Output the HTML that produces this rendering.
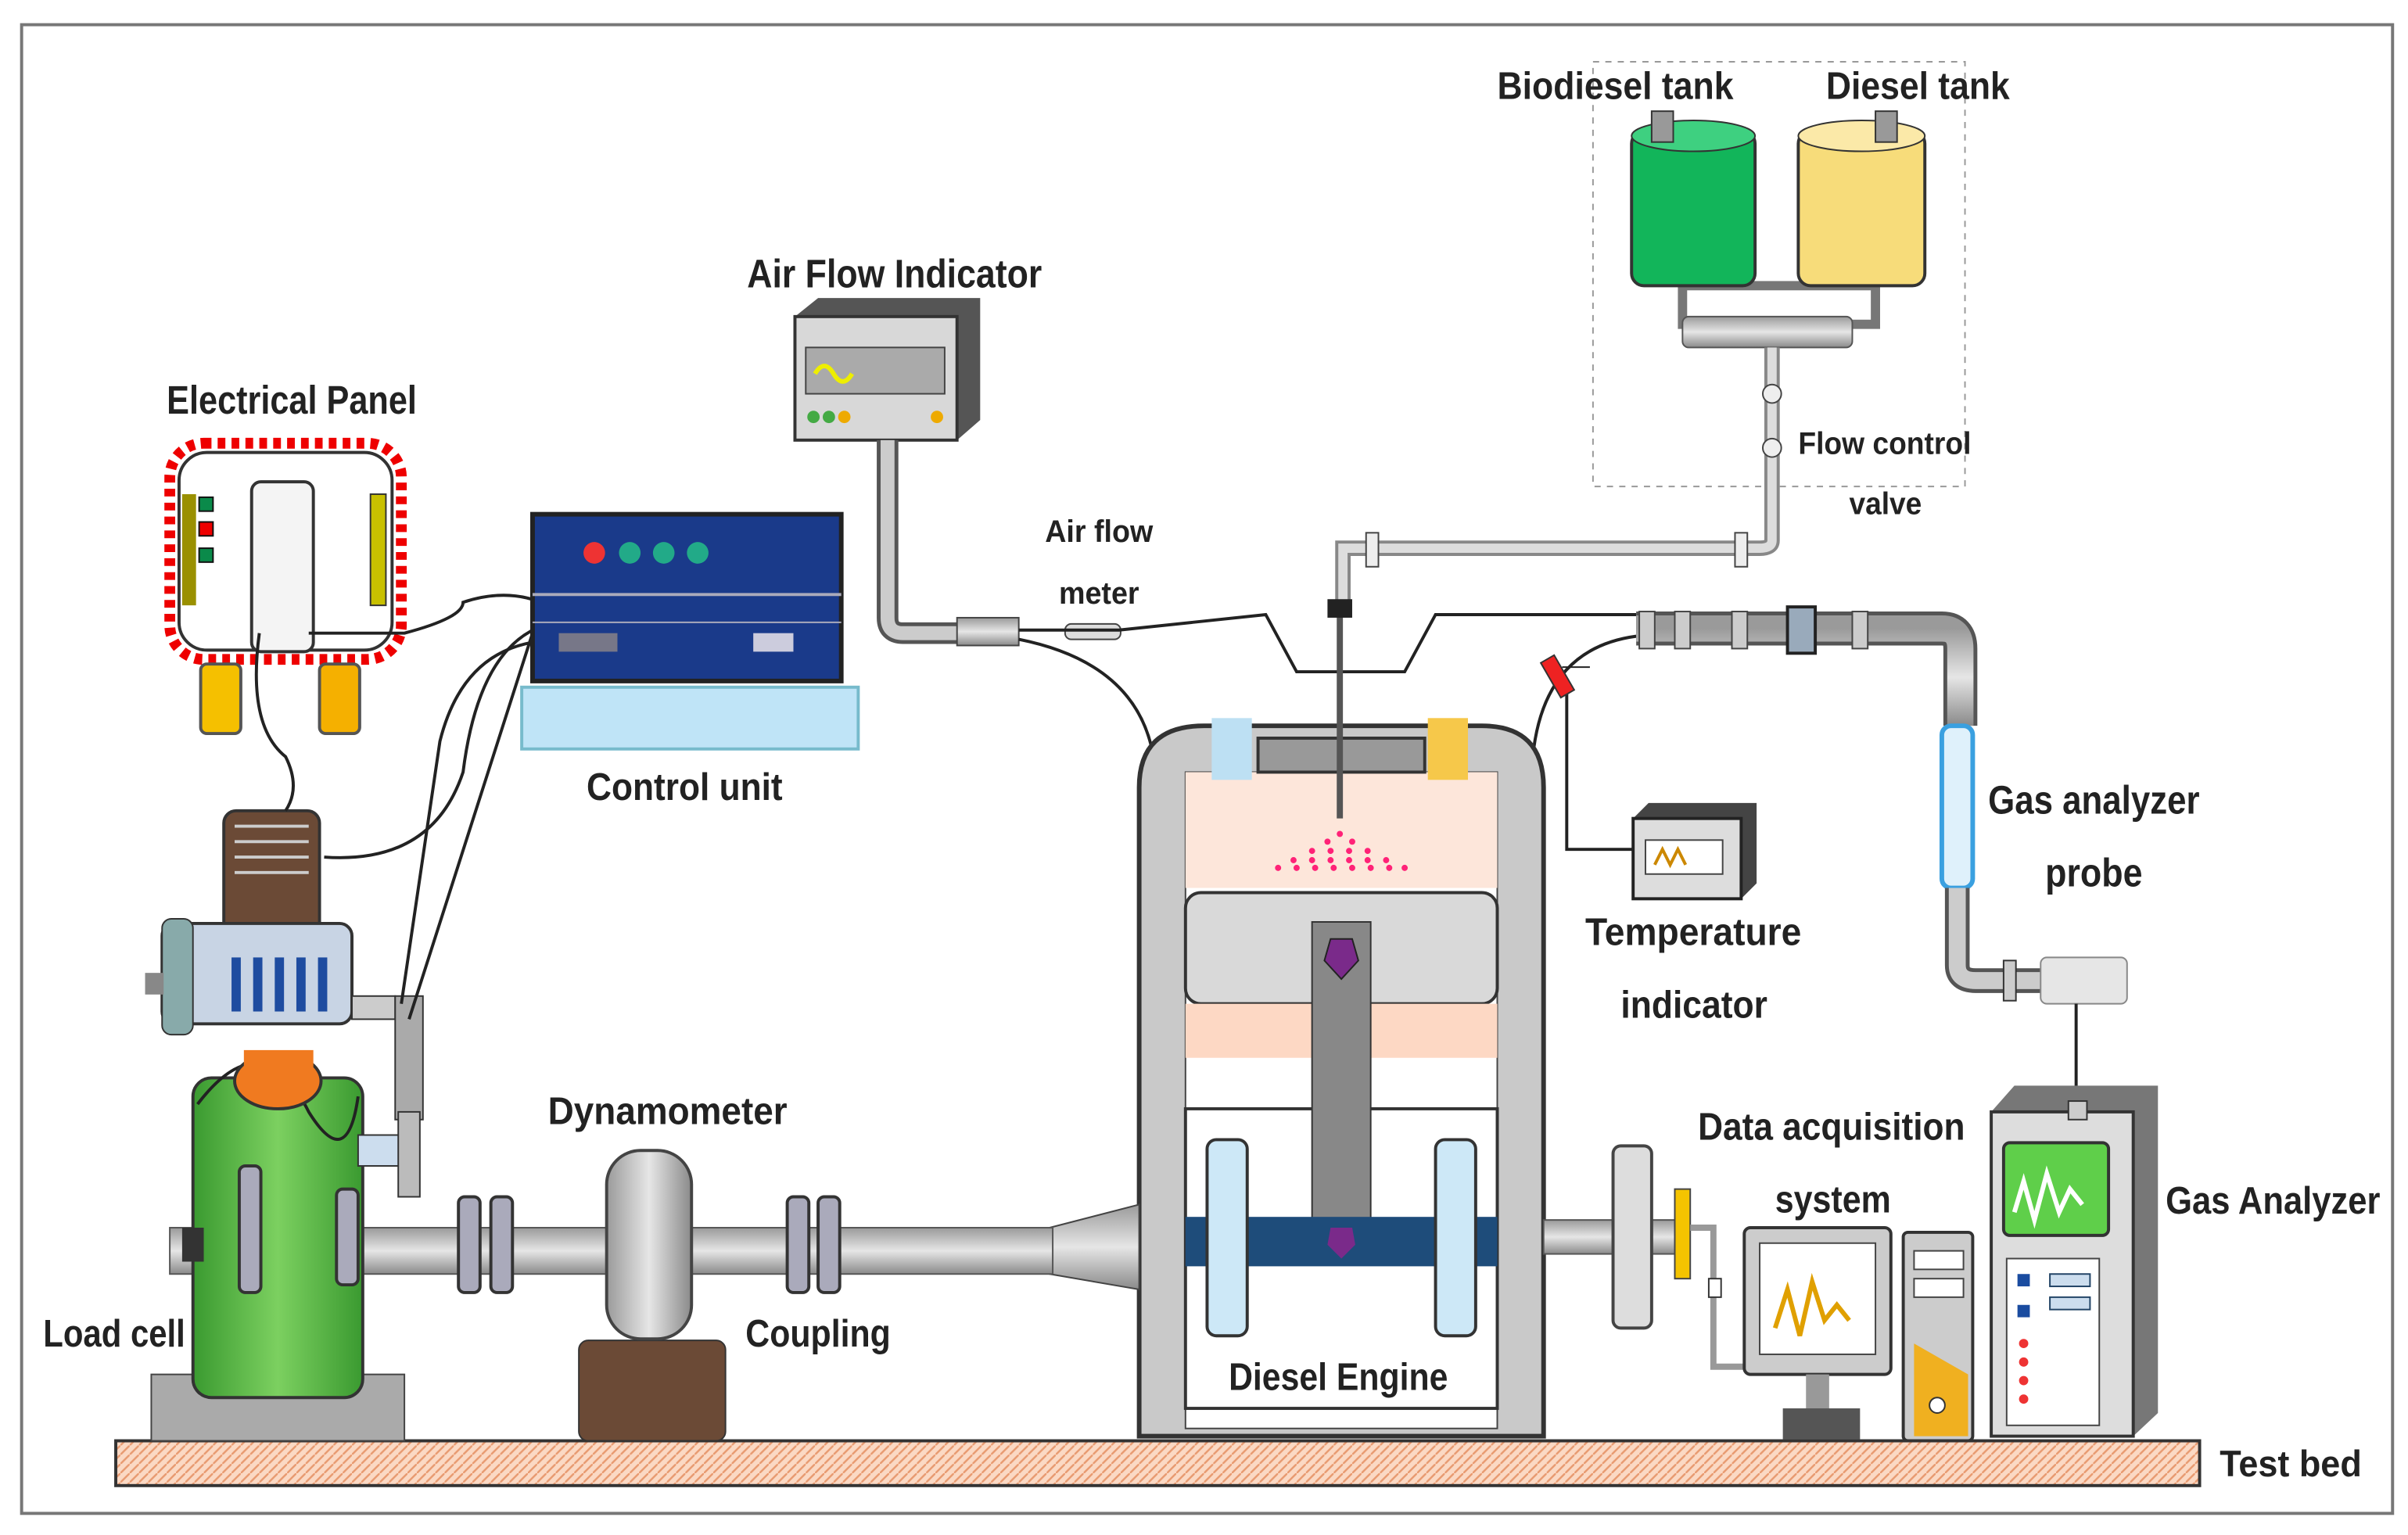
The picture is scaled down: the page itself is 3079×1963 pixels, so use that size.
<!DOCTYPE html>
<html><head><style>
html,body{margin:0;padding:0;background:#fff}
svg{display:block}
text{font-family:"Liberation Sans",sans-serif;font-weight:bold;fill:#222}
</style></head><body>
<svg width="3079" height="1963" viewBox="0 0 1560 994" preserveAspectRatio="none" xmlns="http://www.w3.org/2000/svg">
<defs>
<pattern id="hatch" width="6" height="6" patternUnits="userSpaceOnUse"><rect width="6" height="6" fill="#fbd9c4"/><path d="M0 6L6 0" stroke="#e89a70" stroke-width="1.2"/></pattern>
<linearGradient id="gpipe" x1="0" y1="0" x2="0" y2="1"><stop offset="0" stop-color="#9a9a9a"/><stop offset=".5" stop-color="#e6e6e6"/><stop offset="1" stop-color="#8a8a8a"/></linearGradient>
<linearGradient id="vpipe" x1="0" y1="0" x2="1" y2="0"><stop offset="0" stop-color="#9a9a9a"/><stop offset=".5" stop-color="#e6e6e6"/><stop offset="1" stop-color="#8a8a8a"/></linearGradient>
<linearGradient id="green" x1="0" y1="0" x2="1" y2="0"><stop offset="0" stop-color="#3a9a30"/><stop offset=".5" stop-color="#7cd060"/><stop offset="1" stop-color="#3a9a30"/></linearGradient>
</defs>
<rect x="14" y="16" width="1536" height="964" fill="#fff" stroke="#777" stroke-width="2"/>
<rect x="1032" y="40" width="241" height="275" fill="none" stroke="#999" stroke-dasharray="4 4"/>

<!-- test bed -->
<rect x="75" y="933" width="1350" height="29" fill="url(#hatch)" stroke="#333" stroke-width="2"/>
<text x="1438" y="956" font-size="24" textLength="92" lengthAdjust="spacingAndGlyphs">Test bed</text>

<!-- tanks -->
<rect x="1090" y="185" width="125" height="25" fill="none" stroke="#777" stroke-width="6"/>
<rect x="1090" y="205" width="110" height="20" rx="4" fill="url(#gpipe)" stroke="#555"/>
<rect x="1057" y="85" width="80" height="100" rx="8" fill="#12b55a" stroke="#333" stroke-width="2"/>
<ellipse cx="1097" cy="88" rx="40" ry="10" fill="#3ed080" stroke="#333"/>
<rect x="1070" y="72" width="14" height="20" fill="#999" stroke="#333"/>
<rect x="1165" y="85" width="82" height="100" rx="8" fill="#f7dc7a" stroke="#333" stroke-width="2"/>
<ellipse cx="1206" cy="88" rx="41" ry="10" fill="#fbe9a8" stroke="#333"/>
<rect x="1215" y="72" width="14" height="20" fill="#999" stroke="#333"/>
<text x="970" y="64" font-size="25" textLength="153" lengthAdjust="spacingAndGlyphs">Biodiesel tank</text>
<text x="1183" y="64" font-size="25" textLength="119" lengthAdjust="spacingAndGlyphs">Diesel tank</text>
<text x="1165" y="294" font-size="20" textLength="112" lengthAdjust="spacingAndGlyphs">Flow control</text>
<text x="1198" y="333" font-size="20" textLength="47" lengthAdjust="spacingAndGlyphs">valve</text>
<!-- fuel line -->
<path d="M1148 225 V350 Q1148 355 1140 355 H870 V390" fill="none" stroke="#888" stroke-width="10"/>
<path d="M1148 225 V350 Q1148 355 1140 355 H870 V390" fill="none" stroke="#ddd" stroke-width="6"/>
<circle cx="1148" cy="255" r="6" fill="#eee" stroke="#444"/>
<circle cx="1148" cy="290" r="6" fill="#eee" stroke="#444"/>
<rect x="885" y="345" width="8" height="22" fill="#eee" stroke="#444"/>
<rect x="1124" y="345" width="8" height="22" fill="#eee" stroke="#444"/>

<!-- air flow indicator -->
<path d="M515 205 L530 193 L635 193 L635 272 L620 285 L515 285Z" fill="#555"/>
<rect x="515" y="205" width="105" height="80" fill="#d8d8d8" stroke="#333" stroke-width="2"/>
<rect x="522" y="225" width="90" height="30" fill="#aaa" stroke="#444"/>
<path d="M528 242 q6 -10 12 0 t12 0" stroke="#ee0" stroke-width="3" fill="none"/>
<circle cx="527" cy="270" r="4" fill="#4a4"/><circle cx="537" cy="270" r="4" fill="#4a4"/><circle cx="547" cy="270" r="4" fill="#ea0"/><circle cx="607" cy="270" r="4" fill="#ea0"/>
<text x="484" y="186" font-size="26" textLength="191" lengthAdjust="spacingAndGlyphs">Air Flow Indicator</text>
<path d="M575 285 V400 Q575 410 585 410 H625" fill="none" stroke="#555" stroke-width="14"/>
<path d="M575 285 V400 Q575 410 585 410 H625" fill="none" stroke="#ccc" stroke-width="9"/>
<rect x="620" y="400" width="40" height="18" fill="url(#gpipe)" stroke="#444"/>
<rect x="690" y="404" width="36" height="10" rx="4" fill="#ddd" stroke="#444"/>
<text x="677" y="351" font-size="20" textLength="70" lengthAdjust="spacingAndGlyphs">Air flow</text>
<text x="686" y="391" font-size="20" textLength="52" lengthAdjust="spacingAndGlyphs">meter</text>
<path d="M660 408 L725 408 L820 398 L840 435 L910 435 L930 398 L1060 398" fill="none" stroke="#222" stroke-width="2"/>
<path d="M660 414 Q740 430 748 495" fill="none" stroke="#222" stroke-width="2"/>
<path d="M1060 412 Q1000 420 993 490" fill="none" stroke="#222" stroke-width="2"/>
<!-- exhaust -->
<path d="M1060 407 H1258 Q1270 407 1270 420 V470" fill="none" stroke="#555" stroke-width="22"/>
<path d="M1060 407 H1258 Q1270 407 1270 420 V470" fill="none" stroke="url(#gpipe)" stroke-width="17"/>
<rect x="1062" y="396" width="10" height="24" fill="#ccc" stroke="#444"/>
<rect x="1085" y="396" width="10" height="24" fill="#ccc" stroke="#444"/>
<rect x="1122" y="396" width="10" height="24" fill="#ccc" stroke="#444"/>
<rect x="1158" y="393" width="18" height="30" fill="#9ab" stroke="#222" stroke-width="2"/>
<rect x="1200" y="396" width="10" height="24" fill="#ccc" stroke="#444"/>
<rect x="1258" y="470" width="20" height="105" rx="6" fill="#dff1fb" stroke="#3aa0e0" stroke-width="3"/>
<path d="M1268 575 V625 Q1268 635 1280 635 H1322" fill="none" stroke="#555" stroke-width="16"/>
<path d="M1268 575 V625 Q1268 635 1280 635 H1322" fill="none" stroke="#ccc" stroke-width="11"/>
<rect x="1298" y="622" width="8" height="26" fill="#ccc" stroke="#333"/>
<rect x="1322" y="620" width="56" height="30" rx="4" fill="#e6e6e6" stroke="#888"/>
<line x1="1345" y1="650" x2="1345" y2="715" stroke="#222" stroke-width="2"/>
<text x="1288" y="527" font-size="26" textLength="137" lengthAdjust="spacingAndGlyphs">Gas analyzer</text>
<text x="1325" y="574" font-size="26" textLength="63" lengthAdjust="spacingAndGlyphs">probe</text>

<!-- temperature indicator -->
<line x1="1012" y1="432" x2="1030" y2="432" stroke="#222"/>
<path d="M1015 440 V550 H1058" fill="none" stroke="#222" stroke-width="2"/>
<rect x="1004" y="425" width="10" height="26" fill="#e22" stroke="#333" transform="rotate(-30 1009 438)"/>
<path d="M1058 530 L1068 520 L1138 520 L1138 572 L1128 582 L1058 582Z" fill="#444"/>
<rect x="1058" y="530" width="70" height="52" fill="#ddd" stroke="#222" stroke-width="2"/>
<rect x="1066" y="544" width="50" height="22" fill="#fff" stroke="#444"/>
<path d="M1072 560 l5 -10 l5 10 l5 -10 l5 10" stroke="#c80" stroke-width="2" fill="none"/>
<text x="1027" y="612" font-size="25" textLength="140" lengthAdjust="spacingAndGlyphs">Temperature</text>
<text x="1050" y="659" font-size="25" textLength="95" lengthAdjust="spacingAndGlyphs">indicator</text>

<!-- engine -->
<path d="M738 930 V510 Q738 470 780 470 H960 Q1000 470 1000 510 V930Z" fill="#c9c9c9" stroke="#333" stroke-width="3"/>
<rect x="768" y="500" width="202" height="425" fill="#fff" stroke="#444"/>
<rect x="768" y="500" width="202" height="75" fill="#fde6da"/>
<rect x="815" y="478" width="108" height="22" fill="#999" stroke="#333" stroke-width="2"/>
<rect x="785" y="465" width="26" height="40" fill="#bde0f3"/>
<rect x="925" y="465" width="26" height="40" fill="#f6c84a"/>
<g fill="#f27">
<circle cx="868" cy="540" r="2"/><circle cx="860" cy="545" r="2"/><circle cx="876" cy="545" r="2"/><circle cx="850" cy="551" r="2"/><circle cx="862" cy="551" r="2"/><circle cx="874" cy="551" r="2"/><circle cx="886" cy="551" r="2"/><circle cx="838" cy="557" r="2"/><circle cx="850" cy="557" r="2"/><circle cx="862" cy="557" r="2"/><circle cx="874" cy="557" r="2"/><circle cx="886" cy="557" r="2"/><circle cx="898" cy="557" r="2"/><circle cx="828" cy="562" r="2"/><circle cx="840" cy="562" r="2"/><circle cx="852" cy="562" r="2"/><circle cx="864" cy="562" r="2"/><circle cx="876" cy="562" r="2"/><circle cx="888" cy="562" r="2"/><circle cx="900" cy="562" r="2"/><circle cx="910" cy="562" r="2"/>
</g>
<line x1="868" y1="390" x2="868" y2="530" stroke="#555" stroke-width="4"/>
<rect x="860" y="388" width="16" height="12" fill="#222"/>
<rect x="768" y="578" width="202" height="72" rx="10" fill="#d9d9d9" stroke="#333" stroke-width="2"/>
<rect x="768" y="650" width="202" height="35" fill="#fdd8c4"/>
<rect x="768" y="718" width="202" height="194" fill="#fff" stroke="#333" stroke-width="2"/>
<rect x="850" y="597" width="38" height="195" fill="#888" stroke="#333"/>
<polygon points="862,608 876,608 880,622 869,634 858,622" fill="#7a2a8a" stroke="#222"/>
<rect x="768" y="788" width="202" height="32" fill="#1e4c7a"/>
<polygon points="862,795 876,795 878,806 869,815 860,806" fill="#7a2a8a"/>
<rect x="782" y="738" width="26" height="127" rx="6" fill="#cde8f7" stroke="#333" stroke-width="2"/>
<rect x="930" y="738" width="26" height="127" rx="6" fill="#cde8f7" stroke="#333" stroke-width="2"/>
<text x="796" y="900" font-size="25" textLength="142" lengthAdjust="spacingAndGlyphs">Diesel Engine</text>
<polygon points="680,795 738,780 738,835 680,825" fill="url(#gpipe)" stroke="#444"/>

<!-- shaft -->
<rect x="110" y="795" width="572" height="30" fill="url(#gpipe)" stroke="#555"/>
<rect x="1000" y="790" width="90" height="22" fill="url(#gpipe)" stroke="#555"/>
<rect x="1045" y="742" width="25" height="118" rx="5" fill="#ddd" stroke="#444" stroke-width="2"/>
<rect x="1085" y="770" width="10" height="58" fill="#f5c400" stroke="#444"/>
<path d="M1095 795 H1110 V885 H1135" fill="none" stroke="#999" stroke-width="4"/>
<rect x="1107" y="828" width="8" height="12" fill="#fff" stroke="#333"/>
<g fill="#aab" stroke="#333" stroke-width="2">
<rect x="297" y="775" width="14" height="62" rx="4"/><rect x="318" y="775" width="14" height="62" rx="4"/>
<rect x="510" y="775" width="14" height="62" rx="4"/><rect x="530" y="775" width="14" height="62" rx="4"/>
</g>
<!-- dynamometer -->
<rect x="375" y="868" width="95" height="65" rx="6" fill="#6b4a36" stroke="#333"/>
<rect x="393" y="745" width="55" height="122" rx="22" fill="url(#vpipe)" stroke="#444" stroke-width="2"/>
<text x="355" y="728" font-size="25" textLength="155" lengthAdjust="spacingAndGlyphs">Dynamometer</text>
<text x="483" y="872" font-size="25" textLength="94" lengthAdjust="spacingAndGlyphs">Coupling</text>

<!-- load cell -->
<rect x="98" y="890" width="164" height="43" fill="#aaa" stroke="#444"/>
<rect x="125" y="698" width="110" height="207" rx="12" fill="url(#green)" stroke="#333" stroke-width="2"/>
<path d="M128 715 Q170 660 200 720 Q225 760 232 710" fill="none" stroke="#222" stroke-width="2"/>
<rect x="155" y="755" width="14" height="82" rx="4" fill="#aab" stroke="#333" stroke-width="2"/>
<rect x="218" y="770" width="14" height="62" rx="4" fill="#aab" stroke="#333" stroke-width="2"/>
<rect x="118" y="795" width="14" height="22" fill="#333"/>
<ellipse cx="180" cy="700" rx="28" ry="18" fill="#f07a20" stroke="#333" stroke-width="2"/>
<rect x="158" y="680" width="45" height="20" fill="#f07a20"/>
<text x="28" y="872" font-size="25" textLength="92" lengthAdjust="spacingAndGlyphs">Load cell</text>
<!-- motor -->
<rect x="145" y="525" width="62" height="85" rx="8" fill="#6b4a36" stroke="#333" stroke-width="2"/>
<g stroke="#ccc" stroke-width="2"><line x1="152" y1="535" x2="200" y2="535"/><line x1="152" y1="545" x2="200" y2="545"/><line x1="152" y1="555" x2="200" y2="555"/><line x1="152" y1="565" x2="200" y2="565"/></g>
<rect x="105" y="598" width="123" height="65" rx="8" fill="#c8d4e4" stroke="#333" stroke-width="2"/>
<rect x="105" y="595" width="20" height="75" rx="6" fill="#8aa" stroke="#333"/>
<g fill="#1e4ca0"><rect x="150" y="620" width="6" height="35"/><rect x="164" y="620" width="6" height="35"/><rect x="178" y="620" width="6" height="35"/><rect x="192" y="620" width="6" height="35"/><rect x="206" y="620" width="6" height="35"/></g>
<rect x="228" y="645" width="28" height="15" fill="#ccc" stroke="#333"/>
<rect x="256" y="645" width="18" height="80" fill="#aaa" stroke="#333"/>
<rect x="232" y="735" width="38" height="20" fill="#cde" stroke="#333"/>
<rect x="258" y="720" width="14" height="55" fill="#bbb" stroke="#333"/>
<rect x="94" y="630" width="12" height="14" fill="#888"/>

<!-- electrical panel -->
<rect x="110" y="287" width="150" height="140" rx="22" fill="#fff" stroke="#e00" stroke-width="7" stroke-dasharray="5 4"/>
<rect x="116" y="293" width="138" height="128" rx="18" fill="none" stroke="#333" stroke-width="2"/>
<rect x="163" y="312" width="40" height="110" rx="6" fill="#f4f4f4" stroke="#333" stroke-width="2"/>
<rect x="118" y="320" width="9" height="72" fill="#9a9000"/>
<rect x="129" y="322" width="9" height="9" fill="#0a8a4a" stroke="#111"/>
<rect x="129" y="338" width="9" height="9" fill="#e00" stroke="#111"/>
<rect x="129" y="355" width="9" height="9" fill="#0a8a4a" stroke="#111"/>
<rect x="240" y="320" width="10" height="72" fill="#c8c000" stroke="#333"/>
<rect x="130" y="430" width="26" height="45" rx="4" fill="#f5c000" stroke="#555" stroke-width="2"/>
<rect x="207" y="430" width="26" height="45" rx="4" fill="#f5b000" stroke="#555" stroke-width="2"/>
<text x="108" y="268" font-size="26" textLength="162" lengthAdjust="spacingAndGlyphs">Electrical Panel</text>
<!-- wires -->
<g fill="none" stroke="#222" stroke-width="2">
<path d="M168 410 Q160 470 185 490 Q195 510 185 525"/>
<path d="M200 410 H262 Q300 400 300 390 Q330 380 355 392"/>
<path d="M210 555 Q280 560 300 500 Q310 420 352 405"/>
<path d="M265 660 L345 410"/>
<path d="M260 650 L285 480 Q300 420 352 415"/>
</g>
<!-- control unit -->
<rect x="338" y="445" width="218" height="40" fill="#bfe4f7" stroke="#7bc" stroke-width="2"/>
<rect x="345" y="333" width="200" height="108" fill="#1a3a8a" stroke="#222" stroke-width="3"/>
<line x1="345" y1="385" x2="545" y2="385" stroke="#aab" stroke-width="2"/>
<line x1="345" y1="403" x2="545" y2="403" stroke="#aab"/>
<circle cx="385" cy="358" r="7" fill="#e33"/><circle cx="408" cy="358" r="7" fill="#2a8"/><circle cx="430" cy="358" r="7" fill="#2a8"/><circle cx="452" cy="358" r="7" fill="#2a8"/>
<rect x="362" y="410" width="38" height="12" fill="#778"/>
<rect x="488" y="410" width="26" height="12" fill="#ccd"/>
<text x="380" y="518" font-size="25" textLength="127" lengthAdjust="spacingAndGlyphs">Control unit</text>

<!-- data acquisition -->
<rect x="1130" y="795" width="95" height="95" rx="4" fill="#ccc" stroke="#333" stroke-width="2"/>
<rect x="1140" y="805" width="75" height="72" fill="#fff" stroke="#444"/>
<path d="M1150 860 l8 -25 l8 30 l8 -35 l8 25 l8 -10 l8 10" fill="none" stroke="#e0a000" stroke-width="3"/>
<rect x="1170" y="890" width="15" height="25" fill="#999"/>
<rect x="1155" y="912" width="50" height="20" fill="#555"/>
<rect x="1233" y="798" width="45" height="135" rx="3" fill="#ccc" stroke="#333" stroke-width="2"/>
<rect x="1240" y="810" width="32" height="12" fill="#fff" stroke="#444"/>
<rect x="1240" y="828" width="32" height="12" fill="#fff" stroke="#444"/>
<path d="M1240 870 L1275 890 L1275 930 L1240 930Z" fill="#f0b020"/>
<circle cx="1255" cy="910" r="5" fill="#fff" stroke="#333"/>
<text x="1100" y="738" font-size="25" textLength="173" lengthAdjust="spacingAndGlyphs">Data acquisition</text>
<text x="1150" y="785" font-size="25" textLength="75" lengthAdjust="spacingAndGlyphs">system</text>

<!-- gas analyzer -->
<path d="M1290 720 L1305 703 L1398 703 L1398 915 L1382 930 L1290 930Z" fill="#777"/>
<rect x="1290" y="720" width="92" height="210" fill="#ddd" stroke="#333" stroke-width="2"/>
<rect x="1298" y="740" width="68" height="60" rx="4" fill="#5fcf4a" stroke="#333" stroke-width="2"/>
<path d="M1305 785 l6 -20 l7 25 l8 -30 l8 25 l7 -15 l8 10" fill="none" stroke="#fff" stroke-width="3"/>
<rect x="1300" y="815" width="60" height="108" fill="#fff" stroke="#444"/>
<rect x="1328" y="825" width="26" height="8" fill="#cde" stroke="#246"/>
<rect x="1328" y="840" width="26" height="8" fill="#cde" stroke="#246"/>
<g fill="#1a4ca0"><rect x="1307" y="825" width="8" height="8"/><rect x="1307" y="845" width="8" height="8"/></g>
<g fill="#e33"><circle cx="1311" cy="870" r="3"/><circle cx="1311" cy="882" r="3"/><circle cx="1311" cy="894" r="3"/><circle cx="1311" cy="906" r="3"/></g>
<rect x="1340" y="713" width="12" height="12" fill="#ccc" stroke="#333"/>
<text x="1403" y="786" font-size="25" textLength="139" lengthAdjust="spacingAndGlyphs">Gas Analyzer</text>
</svg>
</body></html>
